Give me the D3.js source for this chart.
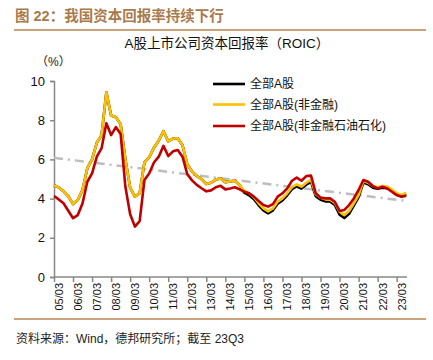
<!DOCTYPE html>
<html>
<head>
<meta charset="utf-8">
<script src="https://cdn.jsdelivr.net/npm/d3@7"></script>
<style>
  html, body { margin: 0; padding: 0; background: #fff; }
  svg { display: block; }
</style>
</head>
<body>
<svg id="chart" width="433" height="360"></svg>
<script>
// ---------- data ----------
const years = ["05","06","07","08","09","10","11","12","13","14","15","16","17","18","19","20","21","22","23"];
const months = ["03","06","09","12"];
const tickLabels = ["05/03","06/03","07/03","08/03","09/03","10/03","11/03","12/03","13/03","14/03","15/03","16/03","17/03","18/03","19/03","20/03","21/03","22/03","23/03"];
const yTicks = [0, 2, 4, 6, 8, 10];
const legendNames = ["全部A股", "全部A股(非金融)", "全部A股(非金融石油石化)"];

const allA = [4.68,4.57,4.37,4.12,3.72,3.93,4.45,5.55,6.0,6.85,7.24,9.42,8.24,8.15,7.8,6.0,4.55,4.1,4.27,5.85,
  6.1,6.6,6.95,7.44,6.92,7.06,7.08,6.72,5.75,5.38,5.15,5.0,4.74,4.81,4.97,5.03,4.84,4.88,4.91,4.69,
  4.3,4.17,3.97,3.66,3.4,3.25,3.4,3.74,3.91,4.17,4.48,4.63,4.51,4.71,4.85,4.12,3.94,3.86,3.85,3.68,
  3.18,3.01,3.22,3.64,4.08,4.82,4.73,4.56,4.5,4.56,4.53,4.39,4.19,4.1,4.22];
const nonFin = [4.68,4.57,4.37,4.12,3.72,3.93,4.45,5.55,6.0,6.85,7.24,9.42,8.24,8.15,7.8,6.0,4.55,4.1,4.27,5.85,
  6.1,6.6,6.95,7.44,6.92,7.06,7.08,6.72,5.75,5.38,5.15,5.0,4.74,4.81,4.97,5.03,4.84,4.88,4.91,4.69,
  4.39,4.27,4.07,3.76,3.5,3.35,3.5,3.84,4.01,4.27,4.58,4.73,4.61,4.81,4.95,4.22,4.04,3.96,3.95,3.78,
  3.33,3.16,3.37,3.76,4.18,4.9,4.81,4.64,4.58,4.64,4.61,4.47,4.27,4.18,4.3];
const nonFinExOil = [4.13,3.96,3.76,3.38,3.0,3.16,3.76,4.86,5.29,6.14,6.57,7.84,7.24,7.65,7.3,4.6,3.2,2.57,2.85,4.95,
  5.28,5.84,6.14,6.69,6.17,6.41,6.48,6.14,5.25,4.93,4.7,4.53,4.37,4.42,4.58,4.65,4.47,4.52,4.58,4.47,
  4.35,4.27,4.1,3.88,3.67,3.59,3.72,4.1,4.27,4.52,4.91,5.07,4.91,5.15,5.17,4.27,4.05,4.01,4.01,3.84,
  3.37,3.42,3.67,4.01,4.44,4.95,4.86,4.64,4.52,4.61,4.52,4.35,4.18,4.1,4.15];
const trendEnds = [6.08, 3.88];

// categories (quarters 05/03 .. 23/09)
const categories = [];
years.forEach(y => months.forEach(m => { if (!(y === "23" && m === "12")) categories.push(y + "/" + m); }));

// ---------- layout ----------
const svg = d3.select("#chart");
const cjk = "'Liberation Sans', Arial, 'Noto Sans CJK SC', sans-serif";
const brown = "#B8844F";

const x = d3.scalePoint().domain(categories).range([54, 406.2]);
const y = d3.scaleLinear().domain([0, 10]).range([277, 81]);

// header
svg.append("text").attr("x", 15).attr("y", 21)
  .attr("font-family", cjk).attr("font-size", 14.5).attr("font-weight", "bold")
  .attr("fill", "#A97A4C")
  .text("图 22：我国资本回报率持续下行");
svg.append("line").attr("x1", 14).attr("x2", 426).attr("y1", 30).attr("y2", 30)
  .attr("stroke", brown).attr("stroke-width", 1.6);

// chart title
svg.append("text").attr("x", 227).attr("y", 48).attr("text-anchor", "middle")
  .attr("font-family", cjk).attr("font-size", 13.5).attr("fill", "#111")
  .text("A股上市公司资本回报率（ROIC）");

// unit
svg.append("text").attr("x", 36).attr("y", 66)
  .attr("font-family", cjk).attr("font-size", 12).attr("fill", "#222")
  .text("（%）");

// y axis
const yAxis = d3.axisLeft(y).tickValues(yTicks).tickSize(4).tickPadding(5).tickFormat(d3.format("d"));
const gy = svg.append("g").attr("transform", "translate(54,0)").call(yAxis);
gy.select(".domain").attr("stroke", "#888").attr("stroke-width", 1.5);
gy.selectAll(".tick line").attr("stroke", "#888").attr("stroke-width", 1.5);
gy.selectAll(".tick text").attr("font-family", cjk).attr("font-size", 13).attr("fill", "#111");

// x axis
const xAxis = d3.axisBottom(x)
  .tickValues(tickLabels).tickSize(5).tickPadding(0);
const gx = svg.append("g").attr("transform", "translate(0,277)").call(xAxis);
gx.select(".domain").attr("stroke", "#888").attr("stroke-width", 1.5).attr("d", "M54,0H407");
gx.selectAll(".tick line").attr("stroke", "#888").attr("stroke-width", 1.5);
gx.selectAll(".tick text")
  .attr("font-family", cjk).attr("font-size", 11).attr("fill", "#111")
  .attr("text-anchor", "end")
  .attr("transform", "translate(4.5,6) rotate(-90)")
  .attr("x", 0).attr("y", 0).attr("dy", "0.35em");

// trend line (dash-dot)
svg.append("line")
  .attr("x1", x(categories[0])).attr("y1", y(trendEnds[0]))
  .attr("x2", x(categories[categories.length - 1])).attr("y2", y(trendEnds[1]))
  .attr("stroke", "#BDBDBD").attr("stroke-width", 2.5)
  .attr("stroke-dasharray", "9,5,2,5");

// series lines
const line = d3.line().x((d, i) => x(categories[i])).y(d => y(d)).curve(d3.curveLinear);
const series = [
  { data: allA, color: "#000000" },
  { data: nonFin, color: "#FFC000" },
  { data: nonFinExOil, color: "#C00000" }
];
series.forEach(s => {
  svg.append("path").datum(s.data).attr("d", line)
    .attr("fill", "none").attr("stroke", s.color).attr("stroke-width", 2.6)
    .attr("stroke-linejoin", "round");
});

// legend
const legendY = [84, 104.5, 126];
legendNames.forEach((n, i) => {
  svg.append("line").attr("x1", 213).attr("x2", 245).attr("y1", legendY[i]).attr("y2", legendY[i])
    .attr("stroke", series[i].color).attr("stroke-width", 2.6);
  svg.append("text").attr("x", 250).attr("y", legendY[i]).attr("dy", "0.36em")
    .attr("font-family", cjk).attr("font-size", 12).attr("fill", "#111").text(n);
});

// bottom rule + source
svg.append("line").attr("x1", 14).attr("x2", 426).attr("y1", 319).attr("y2", 319)
  .attr("stroke", brown).attr("stroke-width", 1.6);
svg.append("text").attr("x", 16).attr("y", 343)
  .attr("font-family", cjk).attr("font-size", 12).attr("fill", "#222")
  .text("资料来源：Wind，德邦研究所；截至 23Q3");
</script>
</body>
</html>
